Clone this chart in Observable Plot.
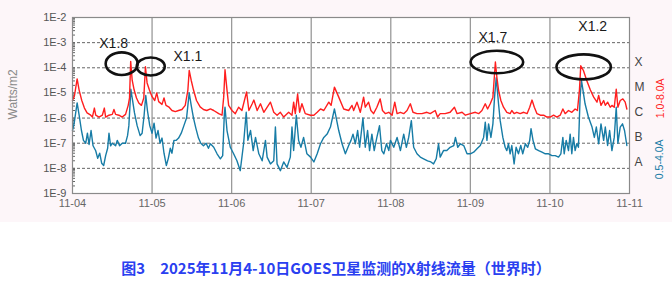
<!DOCTYPE html>
<html><head><meta charset="utf-8">
<script src="https://cdn.jsdelivr.net/npm/d3@7"></script>
<script src="https://cdn.jsdelivr.net/npm/@observablehq/plot@0.6"></script>
<style>
body{margin:0;background:#fff;width:672px;height:283px;overflow:hidden;font-family:"Liberation Sans",Arial,sans-serif}
#chart svg{display:block}
#caption{margin-top:34px;height:24px;line-height:24px;text-align:center;font-family:"Noto Sans CJK SC",sans-serif;font-weight:bold;font-size:15px;color:#2a40f0;white-space:nowrap}
</style></head>
<body><div id="chart"></div><div id="caption">图3　2025年11月4-10日GOES卫星监测的X射线流量（世界时）</div>
<script>
// ---- data: [hours since 2025-11-04 00:00 UT, flux W/m2] ----
const long18 = [
[0,5.0e-6],[0.6,7.9e-6],[1.4,3.6e-5],[2.0,1.3e-5],[2.8,5.0e-6],[3.6,2.5e-6],[4.4,1.6e-6],[5.5,1.3e-6],[6.0,1.1e-6],[6.6,2.5e-6],[7.0,1.3e-6],[8.0,1.1e-6],[9.0,1.3e-6],[9.6,2.5e-6],[10.0,1.1e-6],[11.0,1.3e-6],[12.0,1.4e-6],[12.5,2.2e-6],[13.0,1.4e-6],[14.0,1.3e-6],[15.0,1.1e-6],[16.0,1.4e-6],[16.8,3.2e-6],[17.2,6.3e-6],[17.55,1.8e-4],[18.0,3.2e-5],[18.6,1.3e-5],[19.3,6.3e-6],[20.0,4.0e-6],[20.8,3.2e-6],[21.5,6.3e-6],[22.0,1.1e-4],[22.5,2.5e-5],[23.2,1.3e-5],[24.0,7.1e-6],[24.8,5.0e-6],[25.4,1.0e-5],[26.0,4.5e-6],[27.0,3.5e-6],[27.6,6.3e-6],[28.2,3.2e-6],[29.0,2.8e-6],[30.0,2.0e-6],[31.0,1.8e-6],[32.0,2.0e-6],[33.0,2.2e-6],[34.0,3.2e-6],[34.8,1.3e-5],[35.2,7.8e-5],[35.8,3.2e-5],[36.5,1.3e-5],[37.4,5.0e-6],[38.5,2.8e-6],[39.5,2.2e-6],[40.5,2.0e-6],[41.6,2.3e-6],[42.6,2.0e-6],[44.1,1.5e-6],[45.1,1.3e-6],[45.6,6.8e-6],[46.0,8.3e-5],[46.6,1.3e-5],[47.1,3.2e-6],[48.1,2.0e-6],[49.1,1.5e-6],[50.1,2.7e-6],[51.1,2.0e-6],[52.5,1.1e-5],[53.2,2.0e-6],[54.2,3.7e-6],[54.7,5.2e-6],[55.7,2.0e-6],[56.7,3.7e-6],[57.7,1.7e-6],[59.7,4.3e-6],[60.7,1.7e-6],[61.7,1.3e-6],[62.7,1.7e-6],[63.7,1.1e-6],[65.2,1.7e-6],[66.2,1.3e-6],[66.7,4.3e-6],[67.2,1.5e-6],[67.9,9.1e-6],[68.5,1.7e-6],[69.2,3.7e-6],[70.2,1.5e-6],[71.8,1.3e-6],[72.8,1.3e-6],[73.8,1.7e-6],[74.8,2.3e-6],[75.8,2.0e-6],[77.3,4.3e-6],[78.0,3.2e-6],[79.0,1.7e-5],[80.3,6.8e-6],[81.8,2.3e-6],[83.3,2.0e-6],[84.3,3.2e-6],[84.8,2.0e-6],[85.8,4.3e-6],[86.8,1.7e-6],[87.8,6.8e-6],[88.3,2.7e-6],[89.3,4.3e-6],[90.0,2.0e-6],[90.8,1.5e-6],[91.8,2.7e-6],[92.8,5.8e-6],[93.5,2.0e-6],[94.4,1.5e-6],[95.4,1.7e-6],[96.4,1.3e-6],[97.2,4.3e-6],[97.9,1.5e-6],[98.9,1.7e-6],[99.9,1.5e-6],[100.9,2.0e-6],[101.9,3.7e-6],[102.7,1.7e-6],[103.9,1.5e-6],[105.4,1.5e-6],[106.9,1.7e-6],[107.9,1.5e-6],[109.4,2.0e-6],[110.1,1.1e-6],[110.9,1.5e-6],[112.4,1.5e-6],[113.9,1.7e-6],[115.2,2.7e-6],[116.0,1.5e-6],[117.5,1.7e-6],[118.5,1.3e-6],[120.0,1.5e-6],[121.5,1.7e-6],[122.5,1.5e-6],[123.5,2.0e-6],[124.5,3.7e-6],[125.2,2.3e-6],[126.0,3.7e-6],[126.8,6.8e-6],[127.55,1.7e-4],[128.0,4.2e-5],[128.5,1.3e-5],[129.2,5.0e-6],[130.0,2.7e-6],[131.0,1.7e-6],[132.0,1.5e-6],[132.5,2.0e-6],[133.2,1.5e-6],[134.0,1.7e-6],[135.0,1.5e-6],[136.1,1.7e-6],[137.1,1.5e-6],[137.9,2.7e-6],[138.6,5.2e-6],[139.3,2.7e-6],[140.1,1.5e-6],[141.1,1.3e-6],[142.1,1.3e-6],[143.1,1.1e-6],[144.1,1.1e-6],[145.1,1.3e-6],[146.1,1.1e-6],[147.1,1.3e-6],[147.9,2.3e-6],[148.6,1.5e-6],[149.6,2.0e-6],[150.6,1.7e-6],[151.6,2.3e-6],[152.3,2.0e-6],[152.9,1.3e-5],[153.3,1.2e-4],[154.1,7.8e-5],[155.1,3.1e-5],[156.2,1.3e-5],[157.2,6.8e-6],[158.2,4.3e-6],[158.7,7.9e-6],[159.4,3.2e-6],[160.2,5.0e-6],[160.7,3.2e-6],[161.4,4.3e-6],[162.2,2.7e-6],[162.7,3.2e-6],[163.4,2.7e-6],[164.0,1.4e-5],[164.5,2.7e-6],[165.2,5.0e-6],[166.0,5.8e-6],[166.7,4.3e-6],[167.2,2.3e-6]
];
const short054 = [
[0,3.2e-7],[0.5,6.3e-7],[1.4,4.0e-6],[2.0,1.3e-6],[2.7,3.2e-7],[3.3,1.3e-7],[4.0,1.0e-7],[4.5,2.5e-7],[5.0,8.9e-8],[5.6,3.2e-7],[6.2,7.9e-8],[7.0,5.0e-8],[7.6,2.5e-8],[8.2,4.0e-8],[8.8,1.6e-8],[9.4,1.3e-8],[10.0,3.2e-8],[10.6,6.3e-8],[11.0,2.5e-7],[11.5,7.9e-8],[12.0,1.0e-7],[13.0,7.9e-8],[13.5,1.3e-7],[14.2,7.9e-8],[15.0,1.0e-7],[16.0,1.0e-7],[16.6,2.0e-7],[17.0,5.0e-7],[17.6,1.4e-5],[18.0,6.3e-6],[18.7,1.6e-6],[19.5,5.0e-7],[20.4,2.0e-7],[21.0,2.5e-7],[21.6,1.3e-6],[22.1,7.9e-6],[22.6,2.0e-6],[23.3,5.0e-7],[24.0,2.5e-7],[24.6,6.3e-7],[25.2,1.6e-7],[25.8,3.2e-7],[26.4,1.0e-7],[27.0,1.6e-7],[27.6,4.0e-8],[28.3,1.3e-8],[28.9,2.5e-8],[29.5,6.3e-8],[30.0,4.0e-8],[30.6,1.3e-7],[31.3,1.3e-7],[32.0,1.6e-7],[32.8,2.5e-7],[33.6,5.0e-7],[34.4,1.0e-6],[35.2,1.0e-5],[35.8,3.2e-6],[36.5,1.0e-6],[37.2,4.0e-7],[38.0,1.6e-7],[38.7,1.0e-7],[39.5,7.9e-8],[40.3,1.0e-7],[41.0,6.3e-8],[41.6,9.5e-8],[42.6,6.9e-8],[43.6,3.8e-8],[44.6,2.4e-8],[45.3,3.2e-8],[45.8,1.5e-6],[46.0,2.7e-6],[46.6,3.2e-7],[47.6,6.9e-8],[48.6,3.8e-8],[49.6,2.0e-8],[50.6,8.1e-9],[51.6,9.5e-8],[52.4,1.7e-6],[52.9,1.3e-7],[53.7,3.2e-7],[54.5,5.1e-8],[55.2,1.7e-7],[56.2,3.8e-8],[57.2,2.0e-8],[58.2,1.3e-7],[58.7,2.8e-8],[59.7,1.5e-8],[60.7,2.0e-8],[61.2,4.4e-7],[61.7,1.5e-8],[62.7,8.1e-9],[63.7,1.8e-8],[64.7,1.1e-8],[65.7,2.8e-8],[66.2,4.4e-7],[66.7,5.1e-8],[67.5,1.3e-6],[68.2,1.3e-7],[68.9,6.9e-8],[69.7,1.7e-7],[70.7,3.8e-8],[71.8,2.8e-8],[72.8,1.8e-8],[73.8,3.8e-8],[74.8,9.5e-8],[75.8,1.7e-7],[76.8,2.3e-7],[77.8,4.4e-7],[79.0,2.3e-6],[80.3,3.2e-7],[81.3,9.5e-8],[82.3,3.8e-8],[83.3,8.1e-8],[84.0,1.3e-7],[84.6,2.3e-7],[85.3,9.5e-8],[86.0,3.2e-7],[86.6,6.9e-8],[87.6,1.0e-6],[88.3,6.9e-8],[89.0,3.2e-7],[89.6,5.1e-8],[90.3,2.3e-7],[91.0,5.1e-8],[91.8,1.7e-7],[92.6,5.0e-7],[93.3,5.1e-8],[93.9,3.8e-8],[94.7,9.5e-8],[95.4,5.1e-8],[95.9,1.3e-7],[96.9,6.9e-8],[97.9,1.7e-7],[98.9,5.1e-8],[99.9,2.3e-7],[100.7,6.9e-8],[101.4,1.7e-7],[102.2,7.9e-7],[102.9,6.9e-8],[103.9,3.8e-8],[104.9,2.8e-8],[105.9,2.4e-8],[107.1,2.0e-8],[108.1,1.8e-8],[108.9,1.5e-8],[109.7,2.4e-8],[110.4,9.5e-8],[110.9,2.8e-8],[111.9,5.1e-8],[112.9,5.1e-8],[113.9,6.9e-8],[115.0,8.1e-8],[115.5,1.7e-7],[116.2,6.9e-8],[117.0,9.5e-8],[118.0,8.1e-8],[119.0,3.8e-8],[120.0,3.8e-8],[121.0,4.4e-8],[122.0,6.0e-8],[123.0,8.1e-8],[124.0,1.7e-7],[124.5,6.9e-7],[125.0,1.3e-7],[125.5,5.9e-7],[126.2,1.7e-7],[126.8,5.9e-7],[127.3,6.8e-6],[127.8,4.0e-5],[128.5,3.7e-6],[129.0,7.9e-7],[129.8,1.7e-7],[130.5,6.9e-8],[131.0,5.1e-8],[131.5,9.5e-8],[132.0,3.8e-8],[132.5,8.1e-8],[133.2,1.5e-8],[133.8,6.9e-8],[134.5,3.8e-8],[135.2,8.1e-8],[135.8,3.8e-8],[136.6,9.5e-8],[137.3,6.9e-8],[137.9,1.3e-7],[138.3,3.8e-7],[138.9,1.3e-7],[139.6,6.0e-8],[140.6,5.1e-8],[141.6,4.4e-8],[142.6,3.8e-8],[143.6,3.8e-8],[144.6,3.2e-8],[145.6,3.2e-8],[146.6,2.8e-8],[147.3,3.8e-8],[147.9,1.7e-7],[148.3,3.8e-8],[148.9,1.3e-7],[149.6,5.1e-8],[150.1,2.3e-7],[150.6,3.8e-8],[151.1,1.7e-7],[151.6,5.1e-8],[152.1,9.5e-8],[152.6,6.9e-8],[153.1,6.8e-6],[153.5,3.2e-5],[154.6,3.7e-6],[155.6,1.1e-6],[156.7,4.4e-7],[157.4,1.7e-7],[158.0,4.4e-7],[158.7,9.5e-8],[159.4,5.9e-7],[160.2,1.3e-7],[160.7,4.4e-7],[161.4,8.1e-8],[162.0,3.2e-7],[162.7,5.1e-8],[163.4,1.7e-7],[164.0,2.7e-6],[164.5,1.0e-7],[165.2,4.4e-7],[165.9,5.9e-7],[166.5,3.2e-7],[167.2,8.1e-8]
];
const dayLabels = ["11-04","11-05","11-06","11-07","11-08","11-09","11-10","11-11"];
const yTickValues = [1e-9,1e-8,1e-7,1e-6,1e-5,1e-4,1e-3,1e-2];
const yTickLabels = ["1E-9","1E-8","1E-7","1E-6","1E-5","1E-4","1E-3","1E-2"];
const classNames = ["A","B","C","M","X"];
const classFlux = [1e-8,1e-7,1e-6,1e-5,1e-4];
const flareNames = ["X1.8","X1.1","X1.7","X1.2"];
const flareHours = [17.55,22.0,127.55,153.3];
const flarePeaks = [1.8e-4,1.1e-4,1.7e-4,1.2e-4];
const channelLabels = ["1.0-8.0A","0.5-4.0A"];

// ---- layout/style for annotations (pixels) ----
const annLayout = [
  {dx:-17, dy:-18, ex:-8.5, ey:2.8, rx:16, ry:11.3},
  {dx:42.5, dy:-10, ex:5.8, ey:0.2, rx:14, ry:9},
  {dx:-2.6, dy:-24.5, ex:2, ey:0.5, rx:26.3, ry:11.2},
  {dx:12, dy:-39, ex:3.4, ey:1.6, rx:27.2, ry:12.5}
];

const t0 = Date.UTC(2025,10,4);
const toDate = h => new Date(t0 + h*3600e3);
const longData = long18.map(([h,f]) => ({t: toDate(h), f}));
const shortData = short054.map(([h,f]) => ({t: toDate(h), f}));
const dayTicks = dayLabels.map((_, i) => toDate(24*i));
const dayLabelMap = new Map(dayTicks.map((d,i) => [+d, dayLabels[i]]));
const yLabelMap = new Map(yTickValues.map((v,i) => [v, yTickLabels[i]]));
const flares = flareNames.map((n,i) => ({i, name:n, t: toDate(flareHours[i]), peak: flarePeaks[i]}));
const minorTicks = d3.scaleLog().domain([1e-9,1e-2]).ticks();

const RED = "#ff1e1e", BLUE = "#177ca6";

const marks = [
  Plot.frame({fill: "white"}),
  Plot.ruleY(yTickValues.slice(1,-1), {stroke: "#555", strokeWidth: 0.9, strokeDasharray: "3,2"}),
  Plot.ruleX(dayTicks.slice(1,-1), {stroke: "#9a9a9a", strokeWidth: 1.3}),
  Plot.axisY({ticks: minorTicks, tickSize: -3, text: null, label: null, stroke: "#666"}),
  Plot.axisY({ticks: yTickValues, tickSize: 0, tickPadding: 6, tickFormat: d => yLabelMap.get(d), label: null, fill: "#555"}),
  Plot.axisX({ticks: dayTicks, tickSize: 0, tickPadding: 6, tickFormat: d => dayLabelMap.get(+d), label: null, fill: "#666"}),
  Plot.line(shortData, {x: "t", y: "f", stroke: BLUE, strokeWidth: 1.4}),
  Plot.line(longData, {x: "t", y: "f", stroke: RED, strokeWidth: 1.4}),
  Plot.frame({stroke: "#8a8a8a", strokeWidth: 1.2}),
  Plot.text(classNames, {y: (d,i) => classFlux[i], text: d => d, frameAnchor: "right", textAnchor: "start", dx: 5, dy: -6, fontSize: 12, fill: "#444"}),
  Plot.text([channelLabels[0]], {text: d => d, frameAnchor: "right", rotate: -90, dx: 31, dy: -27, fontSize: 10.5, fill: RED}),
  Plot.text([channelLabels[1]], {text: d => d, frameAnchor: "right", rotate: -90, dx: 30, dy: 34, fontSize: 10.5, fill: BLUE}),
  Plot.text(["Watts/m2"], {text: d => d, frameAnchor: "left", rotate: -90, dx: -59, dy: 14, fontSize: 12, fill: "#8a8a8a"}),
  Plot.dot(flares, {x: "t", y: "peak", render: (index, scales, values) => {
    const g = d3.create("svg:g");
    for (const i of index) {
      const L = annLayout[i];
      g.append("ellipse").attr("cx", values.x[i] + L.ex).attr("cy", values.y[i] + L.ey)
        .attr("rx", L.rx).attr("ry", L.ry).attr("fill", "none").attr("stroke", "#111").attr("stroke-width", 2.6);
    }
    return g.node();
  }}),
  ...flares.map((f, i) => Plot.text([f], {x: "t", y: "peak", text: "name", dx: annLayout[i].dx, dy: annLayout[i].dy, fontSize: 14, fill: "#1a1a1a"}))
];

const chart = Plot.plot({
  width: 672, height: 222,
  marginLeft: 72, marginRight: 43, marginTop: 17, marginBottom: 29,
  style: {fontFamily: "'Liberation Sans', Arial, sans-serif", fontSize: "11px", background: "#fdf6f9", color: "#555"},
  x: {type: "utc", domain: [toDate(0), toDate(168)]},
  y: {type: "log", domain: [1e-9, 1e-2]},
  marks
});
document.getElementById("chart").appendChild(chart);
</script>
</body></html>
